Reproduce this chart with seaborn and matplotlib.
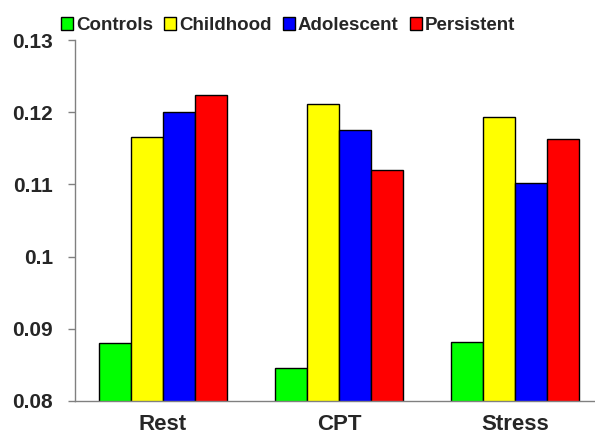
import pandas as pd
import matplotlib
matplotlib.use("Agg")
import matplotlib.pyplot as plt
import seaborn as sns
from matplotlib.patches import Patch

sns.set_theme(style="white")
plt.rcParams["font.family"] = ["Liberation Sans", "DejaVu Sans"]

CONDITIONS = ["Rest", "CPT", "Stress"]
GROUPS     = ["Controls", "Childhood", "Adolescent", "Persistent"]
COLORS     = ["#00FF00", "#FFFF00", "#0000FF", "#FF0000"]

controls   = [0.0881, 0.0846, 0.0882]
childhood  = [0.1166, 0.1211, 0.1194]
adolescent = [0.1200, 0.1175, 0.1102]
persistent = [0.1224, 0.1120, 0.1163]

rows = []
for grp, vals in zip(GROUPS, [controls, childhood, adolescent, persistent]):
    for cond, v in zip(CONDITIONS, vals):
        rows.append({"condition": cond, "group": grp, "value": v})
df = pd.DataFrame(rows)

fig = plt.figure(figsize=(5.95, 4.38), dpi=100)
ax = fig.add_axes([75 / 595, 37 / 438, 520 / 595, 361 / 438])

sns.barplot(data=df, x="condition", y="value", hue="group",
            hue_order=GROUPS, order=CONDITIONS, palette=COLORS,
            saturation=1, width=0.727, edgecolor="black", linewidth=1.0,
            legend=False, ax=ax)

ax.set_ylim(0.08, 0.13)
ax.set_xlim(-0.5, 2.455)
ax.set_yticks([0.08, 0.09, 0.10, 0.11, 0.12, 0.13])
ax.set_yticklabels(["0.08", "0.09", "0.1", "0.11", "0.12", "0.13"])
ax.set_xlabel("")
ax.set_ylabel("")

for side in ["top", "right"]:
    ax.spines[side].set_visible(False)
for side in ["left", "bottom"]:
    ax.spines[side].set_color("#808080")
    ax.spines[side].set_linewidth(1.0)

ax.tick_params(axis="y", which="major", direction="out", length=5,
               width=1, color="#808080", left=True, labelsize=15, pad=11)
ax.tick_params(axis="x", bottom=False, labelsize=16, pad=3)
for lab in ax.get_xticklabels() + ax.get_yticklabels():
    lab.set_fontweight("bold")

handles = [Patch(facecolor=c, edgecolor="black", label=g)
           for g, c in zip(GROUPS, COLORS)]
fig.legend(handles=handles, loc="upper left", bbox_to_anchor=(44 / 595, 1.0),
           ncol=4, frameon=False, handlelength=0.65, handleheight=0.65,
           handletextpad=0.15, columnspacing=0.6,
           prop={"size": 13.5, "weight": "bold"})

fig.savefig("out.png", dpi=100)
plt.close(fig)
